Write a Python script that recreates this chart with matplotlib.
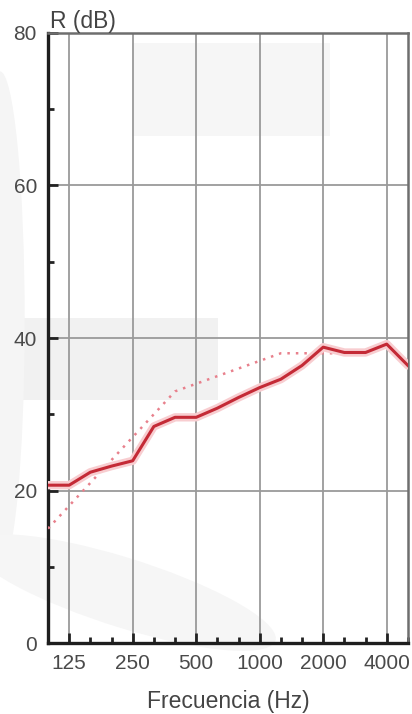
import matplotlib.pyplot as plt
import matplotlib.patches as patches
from matplotlib.ticker import FixedLocator, NullFormatter

# One-third octave bands, 100 Hz .. 5000 Hz
bands = ['100', '125', '160', '200', '250', '315', '400', '500', '630',
         '800', '1000', '1250', '1600', '2000', '2500', '3150', '4000', '5000']
# Measured sound reduction index R (dB)
r_measured = [20.7, 20.7, 22.4, 23.2, 23.9, 28.4, 29.6, 29.6, 30.8,
              32.2, 33.5, 34.6, 36.4, 38.8, 38.1, 38.1, 39.2, 36.4]
# Shifted reference curve (100 Hz .. 3150 Hz)
ref_bands = bands[:16]
r_reference = [15, 18, 21, 24, 27, 30, 33, 34, 35, 36, 37, 38, 38, 38, 38, 38]

octave_labels = ['125', '250', '500', '1000', '2000', '4000']
y_major = [0, 20, 40, 60, 80]
y_minor = [10, 30, 50, 70]

fig = plt.figure(figsize=(4.12, 7.14), dpi=100)
fig.patch.set_facecolor('white')

# faint background marks behind the plot
bg = [
    patches.Rectangle((0.0, 0.44), 0.53, 0.115, facecolor='#f1f1f1'),
    patches.Rectangle((0.32, 0.81), 0.48, 0.13, facecolor='#f6f6f6'),
    patches.Ellipse((0.0, 0.55), 0.12, 0.70, facecolor='#f5f5f5'),
    patches.Ellipse((0.30, 0.17), 0.75, 0.10, angle=-10, facecolor='#f6f6f6'),
]
for p in bg:
    p.set_transform(fig.transFigure)
    p.set_edgecolor('none')
    p.set_zorder(-5)
    fig.patches.append(p)

ax = fig.add_axes([0.1165, 0.0994, 0.8735, 0.8544])
ax.set_zorder(2)
ax.patch.set_alpha(0)

x_all = list(range(len(bands)))
x_ref = [bands.index(b) for b in ref_bands]

# reference curve, dotted
ax.plot(x_ref, r_reference, linestyle=(0, (1, 2.4)), color='#e8808c', lw=1.8, zorder=3)
# measured curve with soft halo
ax.plot(x_all, r_measured, color='#f8cdd0', lw=6, solid_capstyle='round',
        solid_joinstyle='round', zorder=4)
ax.plot(x_all, r_measured, color='#c42a36', lw=2.2, solid_joinstyle='round', zorder=5)

ax.set_xlim(0, len(bands) - 1)
ax.set_ylim(0, 80)

oct_pos = [bands.index(b) for b in octave_labels]
ax.set_xticks(oct_pos)
ax.set_xticklabels(octave_labels)
ax.xaxis.set_minor_locator(FixedLocator([i for i in x_all if i not in oct_pos]))
ax.set_yticks(y_major)
ax.yaxis.set_minor_locator(FixedLocator(y_minor))
ax.yaxis.set_minor_formatter(NullFormatter())

ax.grid(True, which='major', color='#9a9a9a', lw=1.3)
ax.set_axisbelow(True)

lab_font = dict(family='Liberation Sans', size=16.5, color='#444444')
ax.tick_params(which='major', direction='in', length=7, width=2, color='#222222',
               labelsize=15, labelcolor='#4a4a4a', pad=8)
ax.tick_params(which='minor', direction='in', length=4.5, width=2, color='#222222')
for lab in ax.get_xticklabels() + ax.get_yticklabels():
    lab.set_family('Liberation Sans')

for side in ['left', 'bottom']:
    ax.spines[side].set_linewidth(2.4)
    ax.spines[side].set_color('#1e1e1e')
for side in ['top', 'right']:
    ax.spines[side].set_linewidth(1.8)
    ax.spines[side].set_color('#6e6e6e')

ax.set_xlabel('Frecuencia (Hz)', fontdict=lab_font, labelpad=12)
fig.text(0.121, 0.970, 'R (dB)', ha='left', va='center', **lab_font)

fig.savefig('out.png', dpi=100, facecolor='white')
